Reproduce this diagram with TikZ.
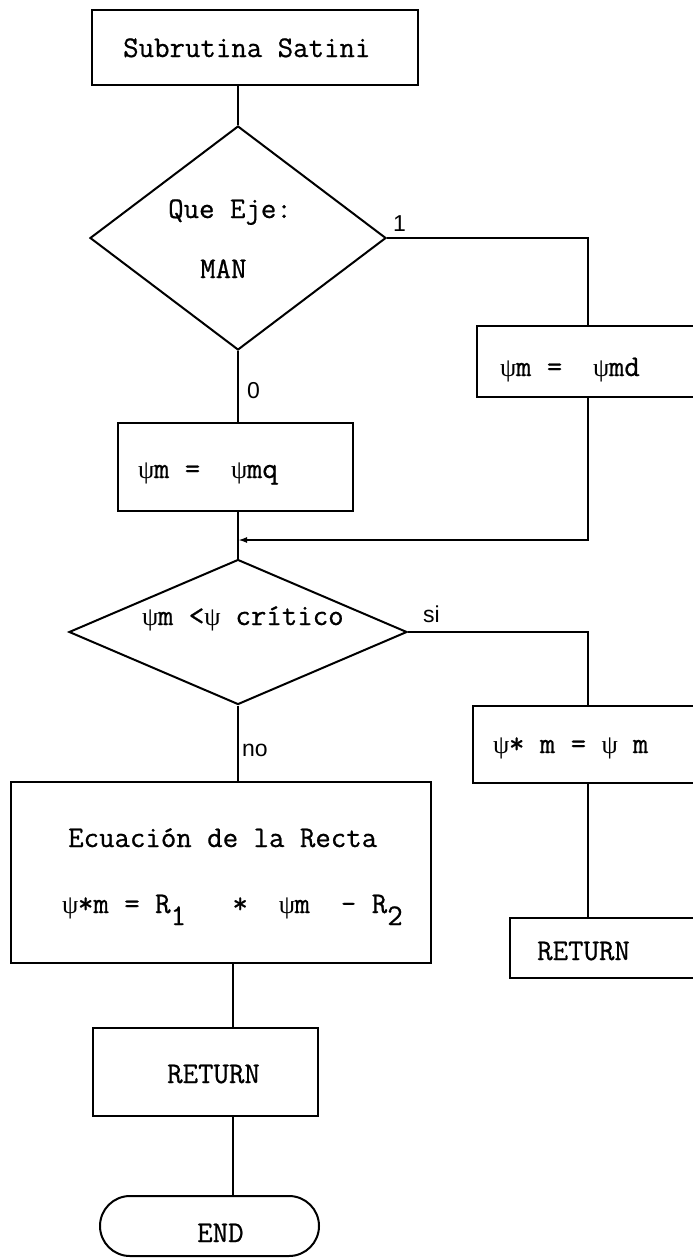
\documentclass[tikz,border=0pt]{standalone}
\usepackage{fontspec}
\newfontfamily\labelfont{Liberation Sans}
\newfontfamily\greekfont{Liberation Serif}
\newfontfamily\typefont{Latin Modern Mono}[RawFeature={embolden=0.7}]
\usetikzlibrary{shapes.geometric,positioning,arrows.meta}

\newcommand{\ps}{\makebox[0.525em][l]{\greekfont\fontsize{26}{26}\selectfont ψ}}
\newcommand{\sub}[1]{\raisebox{-0.4em}{#1}}

\begin{document}
\begin{tikzpicture}[x=1pt,y=-1pt]
\tikzstyle{block}=[rectangle, draw=black, line width=2pt, inner sep=0pt]
\tikzstyle{decision}=[diamond, draw=black, line width=2pt, inner sep=0pt]
\tikzstyle{term}=[rectangle, rounded corners=30pt, draw=black, line width=2pt, inner sep=0pt]
\tikzstyle{txt}=[anchor=base west, inner sep=0pt, font=\typefont\fontsize{30}{36}\selectfont]
\tikzstyle{lbl}=[anchor=base west, inner sep=0pt, font=\labelfont\fontsize{23}{26}\selectfont]
\tikzstyle{connect}=[line width=2pt]
  \useasboundingbox (0,0) rectangle (693,1258);
  \clip (0,0) rectangle (693,1258);
  \coordinate (trunk) at (238,0);
  \coordinate (side) at (588,0);
  \coordinate (low) at (233,0);
  \coordinate (merge) at (238,540);

  % left column
  \node[block, minimum width=326pt, minimum height=75pt] (start) at (255,47.5) {};
  \node[txt] (startT) at (123,57) {Subrutina Satini};
  \node[decision, minimum width=296pt, minimum height=224pt] (eje) at (238,238) {};
  \node[txt] (ejeT) at (168,218) {Que Eje:};
  \node[txt] (ejeM) at (200,278) {MAN};
  \node[block, minimum width=235pt, minimum height=88pt] (mq) at (235.5,467) {};
  \node[txt] (mqT) at (138,478) {\ps m =~~\ps mq};
  \node[decision, minimum width=338pt, minimum height=145pt] (crit) at (238,632) {};
  \node[txt] (critT) at (142,625) {\ps m <\ps{} crítico};
  \node[block, minimum width=420pt, minimum height=181pt] (ecu) at (221,872.5) {};
  \node[txt] (ecuT) at (68,847) {Ecuación de la Recta};
  \node[txt] (ecuF) at (62,913) {\ps*m = R\sub{1}~~~*~~\ps m~~-~R\sub{2}};
  \node[block, minimum width=225pt, minimum height=88pt] (ret) at (205.5,1072) {};
  \node[txt] (retT) at (167,1083) {RETURN};
  \node[term, minimum width=219pt, minimum height=60pt] (fin) at (209.5,1226) {};
  \node[txt] (finT) at (197,1242) {END};

  % right column
  \node[block, minimum width=243pt, minimum height=71pt] (md) at (598.5,361.5) {};
  \node[txt] (mdT) at (500,376) {\ps m =~~\ps md};
  \node[block, minimum width=247pt, minimum height=77pt] (sm) at (596.5,744.5) {};
  \node[txt] (smT) at (493,753) {\ps* m = \ps{} m};
  \node[block, minimum width=210pt, minimum height=60pt] (retR) at (615,948) {};
  \node[txt] (retRT) at (537,960) {RETURN};

  % branch labels
  \node[lbl] (one) at (393,231) {1};
  \node[lbl] (zero) at (247,398) {0};
  \node[lbl] (si) at (423,622) {si};
  \node[lbl] (no) at (242,756) {no};

  % connectors
  \draw[connect] (start.south -| trunk) -- (eje.north);
  \draw[connect] (eje.south) -- (mq.north -| trunk);
  \draw[connect] (eje.east) -| (md.north -| side);
  \draw[connect, -{Latex[length=9pt,width=6pt]}] (md.south -| side) |- (merge);
  \draw[connect] (mq.south -| trunk) -- (crit.north);
  \draw[connect] (crit.east) -| (sm.north -| side);
  \draw[connect] (sm.south -| side) -- (retR.north -| side);
  \draw[connect] (crit.south) -- (ecu.north -| trunk);
  \draw[connect] (ecu.south -| low) -- (ret.north -| low);
  \draw[connect] (ret.south -| low) -- (fin.north -| low);
\end{tikzpicture}
\end{document}
